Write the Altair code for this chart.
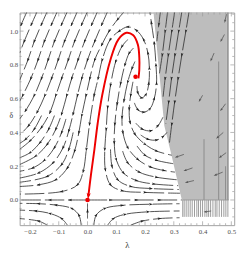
import math
import altair as alt
import pandas as pd

# ---------------- axes / frame ----------------
X_DOMAIN = [-0.236, 0.51]
Y_DOMAIN = [-0.149, 1.11]
W, H = 221, 219
SX = W / (X_DOMAIN[1] - X_DOMAIN[0])
SY = H / (Y_DOMAIN[1] - Y_DOMAIN[0])

X_TICKS = [-0.2, -0.1, 0.0, 0.1, 0.2, 0.3, 0.4, 0.5]
Y_TICKS = [0.0, 0.2, 0.4, 0.6, 0.8, 1.0]
X_MINOR = [v for v in [round(-0.22 + 0.02 * i, 2) for i in range(37)] if v not in X_TICKS]
Y_MINOR = [v for v in [round(-0.1 + 0.05 * i, 2) for i in range(25)] if v not in Y_TICKS]

# ---------------- gray region ----------------
GRAY_OM = [0.0, 0.28, 0.44, 1.136]
GRAY_LAM = [0.328, 0.29, 0.267, 0.228]
GRAY_RIGHT = 0.484
BAND = [0.484, 0.491]
VLINES = [(0.405, 0.0, 0.36), (0.456, 0.0, 0.82), (0.48, 0.0, 0.2)]
COMB_X = [0.331, 0.336, 0.343, 0.35, 0.357, 0.364, 0.372, 0.38, 0.386, 0.393, 0.4,
          0.408, 0.415, 0.421, 0.428, 0.436, 0.444, 0.45, 0.458, 0.466, 0.474, 0.481, 0.488]
COMB_BOTTOM = -0.10

# ---------------- streamlines (λ, Ω) in flow direction ----------------
A_LINES = [
    [(-0.205, 1.136), (-0.23, 1.04), (-0.236, 1.01)],
    [(-0.17, 1.136), (-0.195, 1.04), (-0.22, 0.94), (-0.236, 0.87)],
    [(-0.135, 1.136), (-0.16, 1.04), (-0.185, 0.94), (-0.207, 0.83), (-0.236, 0.71)],
    [(-0.10, 1.136), (-0.125, 1.04), (-0.15, 0.94), (-0.172, 0.83), (-0.197, 0.72), (-0.225, 0.62), (-0.236, 0.585)],
    [(-0.065, 1.136), (-0.09, 1.04), (-0.115, 0.94), (-0.137, 0.83), (-0.16, 0.72), (-0.185, 0.62), (-0.215, 0.53), (-0.236, 0.48)],
    [(-0.03, 1.136), (-0.055, 1.04), (-0.08, 0.94), (-0.102, 0.83), (-0.125, 0.72), (-0.148, 0.62), (-0.175, 0.52), (-0.205, 0.44), (-0.236, 0.385)],
    [(0.005, 1.136), (-0.02, 1.04), (-0.045, 0.94), (-0.067, 0.83), (-0.09, 0.72), (-0.11, 0.62), (-0.13, 0.52), (-0.16, 0.43), (-0.2, 0.35), (-0.236, 0.30)],
    [(0.04, 1.136), (0.015, 1.04), (-0.01, 0.94), (-0.033, 0.83), (-0.055, 0.72), (-0.072, 0.62), (-0.09, 0.51), (-0.11, 0.42), (-0.14, 0.33), (-0.18, 0.26), (-0.236, 0.21)],
    [(0.075, 1.136), (0.05, 1.04), (0.025, 0.94), (0.0, 0.83), (-0.02, 0.72), (-0.035, 0.62), (-0.05, 0.51), (-0.065, 0.41), (-0.085, 0.31), (-0.12, 0.22), (-0.17, 0.16), (-0.236, 0.13)],
    [(0.13, 1.12), (0.105, 1.07), (0.075, 1.0), (0.05, 0.92), (0.025, 0.83), (0.008, 0.72), (-0.005, 0.62), (-0.02, 0.50), (-0.03, 0.40), (-0.045, 0.29), (-0.07, 0.19), (-0.11, 0.12), (-0.17, 0.09), (-0.236, 0.08)],
    # shorter lines filling the lower left
    [(-0.075, 0.48), (-0.09, 0.40), (-0.115, 0.31), (-0.15, 0.235), (-0.19, 0.19), (-0.236, 0.17)],
    [(-0.115, 0.50), (-0.135, 0.42), (-0.165, 0.34), (-0.2, 0.28), (-0.236, 0.25)],
    [(-0.16, 0.50), (-0.185, 0.42), (-0.215, 0.36), (-0.236, 0.335)],
    [(-0.05, 0.40), (-0.065, 0.30), (-0.09, 0.21), (-0.14, 0.14), (-0.236, 0.105)],
]

SPIRAL_LINES = [
    [(0.172, 0.675), (0.175, 0.635), (0.188, 0.605), (0.203, 0.625), (0.213, 0.69), (0.215, 0.78), (0.21, 0.87),
     (0.195, 0.95), (0.17, 1.005), (0.14, 1.025), (0.11, 1.0), (0.079, 0.95), (0.051, 0.83), (0.037, 0.72),
     (0.023, 0.62), (0.007, 0.45), (-0.004, 0.30), (-0.015, 0.17), (-0.035, 0.09), (-0.09, 0.05), (-0.236, 0.035)],
    [(0.163, 0.575), (0.175, 0.535), (0.195, 0.52), (0.217, 0.54), (0.232, 0.60), (0.24, 0.69), (0.238, 0.80),
     (0.232, 0.93), (0.222, 1.05), (0.215, 1.136)],
    [(0.168, 0.455), (0.19, 0.42), (0.22, 0.41), (0.245, 0.44), (0.262, 0.49)],
    [(0.185, 0.385), (0.21, 0.36), (0.24, 0.355), (0.262, 0.375), (0.276, 0.40)],
]

B_LINES = [
    [(0.14, 0.95), (0.12, 0.91), (0.098, 0.82), (0.08, 0.68), (0.07, 0.55), (0.065, 0.42), (0.06, 0.30),
     (0.062, 0.18), (0.08, 0.09), (0.12, 0.055), (0.2, 0.045), (0.322, 0.04)],
    [(0.08, 0.30), (0.085, 0.2), (0.105, 0.12), (0.15, 0.08), (0.22, 0.068), (0.318, 0.062)],
    [(0.16, 0.90), (0.145, 0.87), (0.13, 0.80), (0.115, 0.69), (0.103, 0.57), (0.095, 0.45), (0.093, 0.34),
     (0.1, 0.24), (0.125, 0.16), (0.17, 0.115), (0.23, 0.095), (0.315, 0.085)],
    [(0.122, 0.29), (0.14, 0.22), (0.18, 0.165), (0.24, 0.135), (0.31, 0.12)],
    [(0.165, 0.82), (0.155, 0.78), (0.14, 0.70), (0.127, 0.59), (0.12, 0.49), (0.123, 0.40), (0.14, 0.31),
     (0.175, 0.24), (0.22, 0.195), (0.265, 0.175), (0.304, 0.165)],
    [(0.172, 0.32), (0.2, 0.265), (0.24, 0.235), (0.298, 0.215)],
    [(0.158, 0.70), (0.15, 0.62), (0.145, 0.54), (0.148, 0.46), (0.165, 0.39), (0.2, 0.33), (0.24, 0.29), (0.293, 0.265)],
]

AXIS_LINES = [
    [(0.0, 0.0), (-0.06, 0.0), (-0.13, 0.0), (-0.236, 0.0)],
    [(0.0, 0.0), (0.08, 0.0), (0.17, 0.0), (0.25, 0.0), (0.328, 0.0)],
    [(0.0, -0.11), (0.0, -0.065), (0.0, -0.02)],
    [(-0.022, -0.149), (-0.03, -0.09), (-0.055, -0.05), (-0.11, -0.03), (-0.17, -0.022), (-0.236, -0.02)],
    [(-0.07, -0.149), (-0.09, -0.11), (-0.13, -0.08), (-0.18, -0.065), (-0.236, -0.06)],
    [(-0.14, -0.149), (-0.17, -0.125), (-0.236, -0.11)],
    [(0.022, -0.149), (0.03, -0.09), (0.06, -0.05), (0.12, -0.032), (0.22, -0.025), (0.32, -0.022)],
    [(0.07, -0.149), (0.09, -0.11), (0.13, -0.085), (0.21, -0.07), (0.32, -0.065)],
    [(0.15, -0.149), (0.19, -0.125), (0.25, -0.11), (0.32, -0.105)],
]

GRAY_LINES = [
    [(0.255, 1.136), (0.248, 1.04), (0.241, 0.94)],
    [(0.28, 1.136), (0.27, 1.0), (0.26, 0.86), (0.25, 0.75)],
    [(0.305, 1.136), (0.293, 1.0), (0.281, 0.86), (0.27, 0.72), (0.262, 0.6)],
    [(0.33, 1.136), (0.317, 1.0), (0.304, 0.86), (0.292, 0.72), (0.282, 0.58), (0.272, 0.45)],
    [(0.355, 1.136), (0.342, 1.0), (0.328, 0.86), (0.315, 0.72), (0.303, 0.58), (0.293, 0.45), (0.285, 0.34)],
]

FAINT_LINES = [
    [(0.335, 0.27), (0.31, 0.255)], [(0.365, 0.19), (0.34, 0.175)], [(0.37, 0.115), (0.345, 0.105)],
    [(0.47, 0.165), (0.445, 0.148)], [(0.482, 0.28), (0.462, 0.255)], [(0.48, 0.57), (0.465, 0.535)],
    [(0.472, 0.40), (0.452, 0.37)], [(0.44, 0.87), (0.43, 0.83)], [(0.483, 1.1), (0.478, 1.06)],
    [(0.476, 0.98), (0.465, 0.945)], [(0.40, 0.62), (0.39, 0.59)], [(0.43, -0.065), (0.41, -0.07)],
]

RED_LINE = [(0.177, 0.72), (0.18, 0.77), (0.18, 0.845), (0.175, 0.92), (0.158, 0.977), (0.135, 0.99),
            (0.107, 0.95), (0.079, 0.826), (0.051, 0.62), (0.035, 0.45), (0.024, 0.30), (0.012, 0.15),
            (0.003, 0.025)]
RED_POINTS = [(0.0, 0.0), (0.167, 0.73)]

ARROW = "M0,-1L0.6,0.8L0,0.45L-0.6,0.8Z"


def line_rows(lines, tag):
    rows = []
    for k, pts in enumerate(lines):
        for i, (l, o) in enumerate(pts):
            rows.append({"line": f"{tag}{k}", "idx": i, "lam": l, "om": o})
    return pd.DataFrame(rows)


def arrow_rows(lines, ends_only=False):
    rows = []
    for pts in lines:
        n = len(pts)
        idxs = [n - 1] if (n == 2 or ends_only) else range(1, n - 1)
        for i in idxs:
            a = pts[max(i - 1, 0)]
            b = pts[min(i + 1, n - 1)]
            dx = (b[0] - a[0]) * SX
            dy = (b[1] - a[1]) * SY
            ang = math.degrees(math.atan2(dx, dy)) % 360
            rows.append({"lam": pts[i][0], "om": pts[i][1], "ang": ang})
    return pd.DataFrame(rows)


FONT = "Liberation Serif"
xaxis = alt.Axis(values=X_TICKS, format=".1f", ticks=False, tickSize=0, domain=False, grid=False,
                 labelFont=FONT, labelFontSize=7, labelColor="#4d4d4d", labelPadding=3, labelFlush=False,
                 title="λ", titleFont=FONT, titleFontSize=9, titleFontWeight="normal", titleColor="#333333",
                 titleY=20, titleBaseline="middle")
yaxis = alt.Axis(values=Y_TICKS, format=".1f", ticks=False, tickSize=0, domain=False, grid=False,
                 labelFont=FONT, labelFontSize=7, labelColor="#4d4d4d", labelPadding=2, labelFlush=False,
                 title="δ", titleFont=FONT, titleFontSize=8, titleFontWeight="normal", titleColor="#333333",
                 titleAngle=0, titleX=-9, titleY=106, titleAlign="center", titleBaseline="middle")
xs = alt.Scale(domain=X_DOMAIN, nice=False, zero=False)
ys = alt.Scale(domain=Y_DOMAIN, nice=False, zero=False)


def X(field="lam"):
    return alt.X(f"{field}:Q", scale=xs, axis=xaxis)


def Y(field="om"):
    return alt.Y(f"{field}:Q", scale=ys, axis=yaxis)


# gray region
gray_df = pd.DataFrame({"om": GRAY_OM, "lam": GRAY_LAM, "right": [GRAY_RIGHT] * len(GRAY_OM)})
gray = alt.Chart(gray_df).mark_area(orient="horizontal", color="#bdbdbd", clip=True).encode(
    y=Y(), x=X(), x2="right:Q")

band = alt.Chart(pd.DataFrame({"lam": [BAND[0]], "lam2": [BAND[1]], "om": [0.0], "om2": [1.2]})).mark_rect(
    color="#999999", clip=True).encode(x=X(), x2="lam2:Q", y=Y(), y2="om2:Q")

vl = alt.Chart(pd.DataFrame(VLINES, columns=["lam", "om", "om2"])).mark_rule(
    color="#8a8a8a", strokeWidth=1, clip=True).encode(x=X(), y=Y(), y2="om2:Q")

comb = alt.Chart(pd.DataFrame({"lam": COMB_X, "om": [COMB_BOTTOM] * len(COMB_X), "om2": [0.0] * len(COMB_X)})).mark_rule(
    color="#9a9a9a", strokeWidth=1, clip=True).encode(x=X(), y=Y(), y2="om2:Q")
comb_top = alt.Chart(pd.DataFrame({"lam": [COMB_X[0]], "lam2": [BAND[1]], "om": [0.0]})).mark_rule(
    color="#9a9a9a", strokeWidth=1, clip=True).encode(x=X(), x2="lam2:Q", y=Y())


def stream_layers(lines, tag, color, width, asize, dash=(20, 4)):
    ln = alt.Chart(line_rows(lines, tag)).mark_line(
        interpolate="catmull-rom", color=color, strokeWidth=width, strokeDash=list(dash), clip=True).encode(
        x=X(), y=Y(), detail="line:N", order="idx:Q")
    ar = alt.Chart(arrow_rows(lines)).mark_point(
        shape=ARROW, filled=True, size=asize, color=color, opacity=1, strokeWidth=0, clip=True).encode(
        x=X(), y=Y(), angle=alt.Angle("ang:Q", scale=None))
    return [ln, ar]


layers = [gray, band, vl, comb, comb_top]
layers += stream_layers(GRAY_LINES, "g", "#2a2a2a", 0.8, 20)
layers += stream_layers(FAINT_LINES, "f", "#555555", 0.8, 16, dash=(30, 0))
layers += stream_layers(A_LINES, "a", "#222222", 0.8, 20)
layers += stream_layers(SPIRAL_LINES, "s", "#222222", 0.8, 20)
layers += stream_layers(B_LINES, "b", "#222222", 0.8, 20)
layers += stream_layers(AXIS_LINES, "h", "#222222", 0.8, 20)

red_line = alt.Chart(line_rows([RED_LINE], "r")).mark_line(
    interpolate="catmull-rom", color="#ee0000", strokeWidth=2, clip=True).encode(
    x=X(), y=Y(), detail="line:N", order="idx:Q")
red_arrow = alt.Chart(arrow_rows([RED_LINE], ends_only=True)).mark_point(
    shape=ARROW, filled=True, size=50, color="#ee0000", opacity=1, strokeWidth=0, clip=True).encode(
    x=X(), y=Y(), angle=alt.Angle("ang:Q", scale=None))
red_pts = alt.Chart(pd.DataFrame(RED_POINTS, columns=["lam", "om"])).mark_point(
    filled=True, size=22, color="#ee0000", opacity=1, clip=True).encode(x=X(), y=Y())
layers += [red_line, red_arrow, red_pts]

# inward frame ticks on all sides
TICK_COLOR = "#9a9a9a"
xt = pd.DataFrame({"lam": X_TICKS})
xm = pd.DataFrame({"lam": X_MINOR})
yt = pd.DataFrame({"om": Y_TICKS})
ym = pd.DataFrame({"om": Y_MINOR})
for df, ln in [(xt, 4), (xm, 2)]:
    layers.append(alt.Chart(df).mark_rule(color=TICK_COLOR, strokeWidth=0.7).encode(
        x=X(), y=alt.value(H), y2=alt.value(H - ln)))
    layers.append(alt.Chart(df).mark_rule(color=TICK_COLOR, strokeWidth=0.7).encode(
        x=X(), y=alt.value(0), y2=alt.value(ln)))
for df, ln in [(yt, 4), (ym, 2)]:
    layers.append(alt.Chart(df).mark_rule(color=TICK_COLOR, strokeWidth=0.7).encode(
        y=Y(), x=alt.value(0), x2=alt.value(ln)))
    layers.append(alt.Chart(df).mark_rule(color=TICK_COLOR, strokeWidth=0.7).encode(
        y=Y(), x=alt.value(W), x2=alt.value(W - ln)))

chart = alt.layer(*layers).properties(
    width=W, height=H,
    padding={"left": 12, "top": 1, "right": 7, "bottom": 25},
    autosize=alt.AutoSizeParams(type="none"),
).configure_view(stroke="#a0a0a0", strokeWidth=1)

chart.save("out.html", embed_options={"renderer": "svg", "actions": False})
